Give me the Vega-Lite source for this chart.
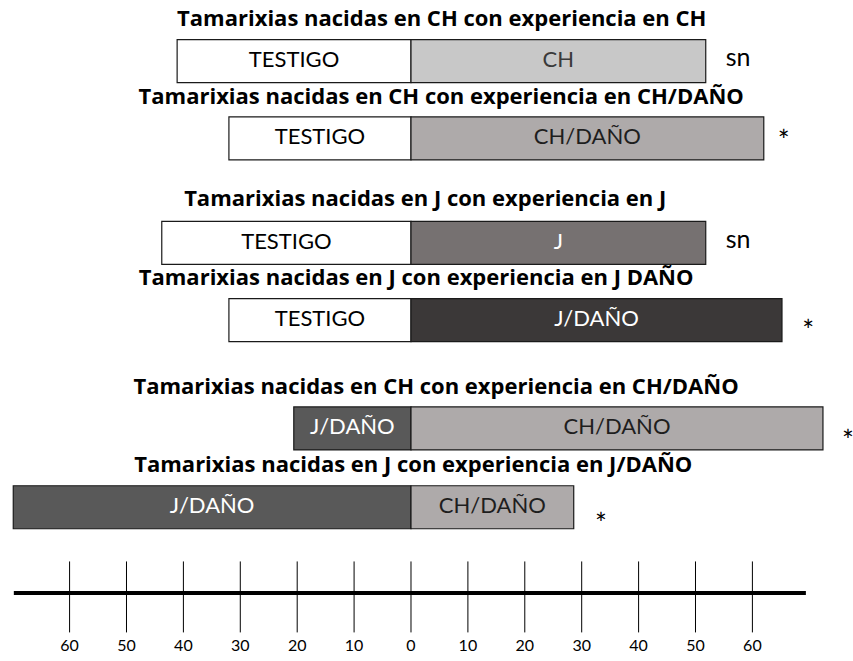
{
  "$schema": "https://vega.github.io/schema/vega-lite/v6.json",
  "width": 853,
  "height": 661,
  "autosize": {"type": "none"},
  "padding": 0,
  "background": "white",
  "config": {"view": {"stroke": null}},
  "datasets": {
    "barras": [
      {"fila": 1, "segmento": "TESTIGO", "clave": "TESTIGO", "inicio": -41.1, "fin": 0},
      {"fila": 1, "segmento": "CH", "clave": "CH", "inicio": 0, "fin": 51.8},
      {"fila": 2, "segmento": "TESTIGO", "clave": "TESTIGO", "inicio": -32.0, "fin": 0},
      {"fila": 2, "segmento": "CH/DAÑO", "clave": "CH/DAÑO", "inicio": 0, "fin": 62.0},
      {"fila": 3.35, "segmento": "TESTIGO", "clave": "TESTIGO", "inicio": -43.8, "fin": 0},
      {"fila": 3.35, "segmento": "J", "clave": "J", "inicio": 0, "fin": 51.8},
      {"fila": 4.35, "segmento": "TESTIGO", "clave": "TESTIGO", "inicio": -32.0, "fin": 0},
      {"fila": 4.35, "segmento": "J/DAÑO", "clave": "J/DAÑO vs TESTIGO", "inicio": 0, "fin": 65.2},
      {"fila": 5.75, "segmento": "J/DAÑO", "clave": "J/DAÑO vs CH/DAÑO", "inicio": -20.6, "fin": 0},
      {"fila": 5.75, "segmento": "CH/DAÑO", "clave": "CH/DAÑO", "inicio": 0, "fin": 72.4},
      {"fila": 6.77, "segmento": "J/DAÑO", "clave": "J/DAÑO vs CH/DAÑO", "inicio": -69.9, "fin": 0},
      {"fila": 6.77, "segmento": "CH/DAÑO", "clave": "CH/DAÑO", "inicio": 0, "fin": 28.6}
    ],
    "titulos": [
      {"fila": 0.45, "centro": 5.4, "titulo": "Tamarixias nacidas en CH con experiencia en CH"},
      {"fila": 1.46, "centro": 5.3, "titulo": "Tamarixias nacidas en CH con experiencia en CH/DAÑO"},
      {"fila": 2.78, "centro": 2.5, "titulo": "Tamarixias nacidas en J con experiencia en J"},
      {"fila": 3.81, "centro": 0.9, "titulo": "Tamarixias nacidas en J con experiencia en J DAÑO"},
      {"fila": 5.21, "centro": 4.4, "titulo": "Tamarixias nacidas en CH con experiencia en CH/DAÑO"},
      {"fila": 6.22, "centro": 0.4, "titulo": "Tamarixias nacidas en J con experiencia en J/DAÑO"}
    ],
    "notas": [
      {"fila": 1.064, "x": 57.5, "nota": "sn", "tipo": "sn"},
      {"fila": 2.166, "x": 65.5, "nota": "*", "tipo": "ast"},
      {"fila": 3.414, "x": 57.5, "nota": "sn", "tipo": "sn"},
      {"fila": 4.624, "x": 69.8, "nota": "*", "tipo": "ast"},
      {"fila": 6.038, "x": 76.8, "nota": "*", "tipo": "ast"},
      {"fila": 7.121, "x": 33.4, "nota": "*", "tipo": "ast"}
    ],
    "escala": [
      {"v": -60, "etiqueta": "60"},
      {"v": -50, "etiqueta": "50"},
      {"v": -40, "etiqueta": "40"},
      {"v": -30, "etiqueta": "30"},
      {"v": -20, "etiqueta": "20"},
      {"v": -10, "etiqueta": "10"},
      {"v": 0, "etiqueta": "0"},
      {"v": 10, "etiqueta": "10"},
      {"v": 20, "etiqueta": "20"},
      {"v": 30, "etiqueta": "30"},
      {"v": 40, "etiqueta": "40"},
      {"v": 50, "etiqueta": "50"},
      {"v": 60, "etiqueta": "60"}
    ],
    "eje": [
      {"desde": -69.8, "hasta": 69.4, "fila": 7.879}
    ]
  },
  "layer": [
    {
      "data": {"name": "barras"},
      "mark": {"type": "bar", "size": 43, "stroke": "#1a1a1a", "strokeWidth": 1.2},
      "encoding": {
        "x": {"field": "inicio", "type": "quantitative", "scale": {"domain": [-72.23, 77.68], "nice": false, "zero": false}, "axis": null},
        "x2": {"field": "fin"},
        "y": {"field": "fila", "type": "quantitative", "scale": {"domain": [0.274, 8.694], "nice": false, "zero": false, "reverse": true}, "axis": null},
        "fill": {
          "field": "clave", "type": "nominal", "legend": null,
          "scale": {
            "domain": ["TESTIGO", "CH", "CH/DAÑO", "J", "J/DAÑO vs TESTIGO", "J/DAÑO vs CH/DAÑO"],
            "range": ["#ffffff", "#c8c8c8", "#aeaaaa", "#767171", "#3b3838", "#595959"]
          }
        }
      }
    },
    {
      "data": {"name": "barras"},
      "transform": [{"calculate": "(datum.inicio + datum.fin) / 2", "as": "medio"}],
      "mark": {"type": "text", "font": "Lato", "fontSize": 22, "baseline": "middle", "align": "center", "dy": -1},
      "encoding": {
        "x": {"field": "medio", "type": "quantitative", "scale": {"domain": [-72.23, 77.68], "nice": false, "zero": false}, "axis": null},
        "y": {"field": "fila", "type": "quantitative", "scale": {"domain": [0.274, 8.694], "nice": false, "zero": false, "reverse": true}, "axis": null},
        "text": {"field": "segmento"},
        "color": {
          "field": "clave", "type": "nominal", "legend": null,
          "scale": {
            "domain": ["TESTIGO", "CH", "CH/DAÑO", "J", "J/DAÑO vs TESTIGO", "J/DAÑO vs CH/DAÑO"],
            "range": ["#000000", "#3a3a3a", "#1e1e1e", "#ffffff", "#ffffff", "#ffffff"]
          }
        }
      }
    },
    {
      "data": {"name": "titulos"},
      "mark": {"type": "text", "font": "Open Sans", "fontSize": 22, "fontWeight": "bold", "baseline": "middle", "align": "center", "color": "#000000"},
      "encoding": {
        "x": {"field": "centro", "type": "quantitative", "scale": {"domain": [-72.23, 77.68], "nice": false, "zero": false}, "axis": null},
        "y": {"field": "fila", "type": "quantitative", "scale": {"domain": [0.274, 8.694], "nice": false, "zero": false, "reverse": true}, "axis": null},
        "text": {"field": "titulo"}
      }
    },
    {
      "data": {"name": "notas"},
      "mark": {"type": "text", "font": "Lato", "baseline": "alphabetic", "align": "center", "color": "#000000"},
      "encoding": {
        "x": {"field": "x", "type": "quantitative", "scale": {"domain": [-72.23, 77.68], "nice": false, "zero": false}, "axis": null},
        "y": {"field": "fila", "type": "quantitative", "scale": {"domain": [0.274, 8.694], "nice": false, "zero": false, "reverse": true}, "axis": null},
        "text": {"field": "nota"},
        "size": {"field": "tipo", "type": "nominal", "legend": null, "scale": {"domain": ["sn", "ast"], "range": [25, 28]}}
      }
    },
    {
      "data": {"name": "eje"},
      "mark": {"type": "rule", "strokeWidth": 4, "color": "#000000"},
      "encoding": {
        "x": {"field": "desde", "type": "quantitative", "scale": {"domain": [-72.23, 77.68], "nice": false, "zero": false}, "axis": null},
        "x2": {"field": "hasta"},
        "y": {"field": "fila", "type": "quantitative", "scale": {"domain": [0.274, 8.694], "nice": false, "zero": false, "reverse": true}, "axis": null}
      }
    },
    {
      "data": {"name": "escala"},
      "mark": {"type": "rule", "strokeWidth": 1, "color": "#000000"},
      "encoding": {
        "x": {"field": "v", "type": "quantitative", "scale": {"domain": [-72.23, 77.68], "nice": false, "zero": false}, "axis": null},
        "y": {"datum": 7.471, "type": "quantitative", "scale": {"domain": [0.274, 8.694], "nice": false, "zero": false, "reverse": true}, "axis": null},
        "y2": {"datum": 8.389}
      }
    },
    {
      "data": {"name": "escala"},
      "mark": {"type": "text", "font": "Lato", "fontSize": 16, "baseline": "middle", "align": "center", "color": "#000000"},
      "encoding": {
        "x": {"field": "v", "type": "quantitative", "scale": {"domain": [-72.23, 77.68], "nice": false, "zero": false}, "axis": null},
        "y": {"datum": 8.57, "type": "quantitative", "scale": {"domain": [0.274, 8.694], "nice": false, "zero": false, "reverse": true}, "axis": null},
        "text": {"field": "etiqueta"}
      }
    }
  ]
}
